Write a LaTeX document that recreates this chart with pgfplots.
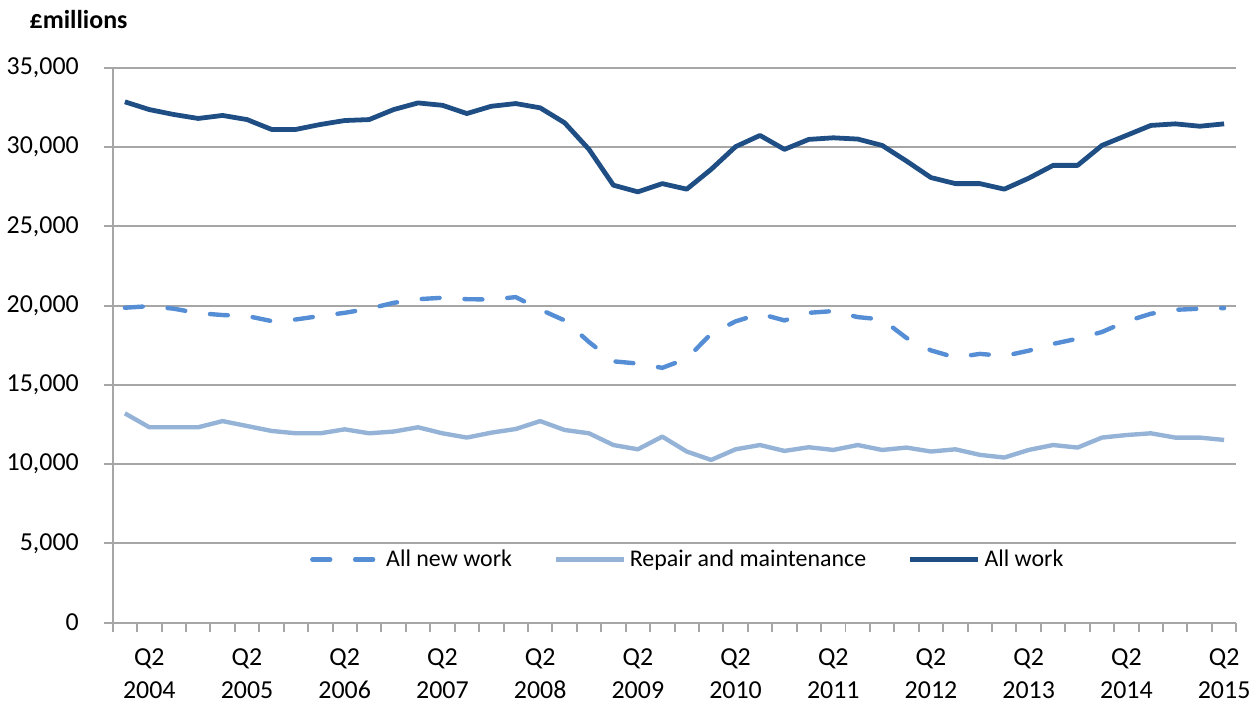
\documentclass[border=0pt]{standalone}
\usepackage{fontspec}
\setmainfont{Carlito}
\usepackage{pgfplots}
\pgfplotsset{compat=1.18}
\definecolor{allwork}{HTML}{1F4E85}
\definecolor{newwork}{HTML}{558ED5}
\definecolor{repair}{HTML}{95B3D7}
\definecolor{gridgray}{HTML}{A6A6A6}

% quarter index (0 = Q1 2004), all new work, repair and maintenance, all work
\pgfplotstableread{
q new repair all
0 19860 13200 32850
1 19960 12320 32360
2 19800 12320 32050
3 19520 12320 31800
4 19400 12710 31990
5 19340 12400 31730
6 19020 12090 31110
7 19120 11940 31110
8 19340 11940 31420
9 19540 12190 31670
10 19800 11940 31730
11 20170 12050 32360
12 20400 12320 32780
13 20490 11940 32630
14 20400 11670 32110
15 20380 11980 32570
16 20530 12210 32740
17 19750 12710 32470
18 19060 12150 31530
19 17700 11940 29850
20 16480 11200 27590
21 16340 10930 27170
22 16070 11730 27690
23 16650 10790 27340
24 18220 10260 28590
25 19000 10930 30020
26 19480 11200 30730
27 19060 10830 29850
28 19540 11060 30480
29 19650 10890 30580
30 19270 11200 30500
31 19120 10890 30100
32 17950 11040 29110
33 17170 10790 28070
34 16720 10930 27690
35 16950 10580 27690
36 16820 10410 27340
37 17150 10890 28030
38 17580 11200 28840
39 17910 11040 28840
40 18330 11670 30100
41 19000 11830 30730
42 19480 11940 31360
43 19730 11670 31460
44 19800 11670 31310
45 19840 11520 31460
}\data

\begin{document}
\begin{tikzpicture}
\begin{axis}[
    scale only axis,
    width=564pt,
    height=278.5pt,
    xmin=-0.5, xmax=45.5,
    ymin=0, ymax=35000,
    ytick={0,5000,...,35000},
    xtick={-0.5,0.5,...,45.5},
    xticklabels={},
    extra x ticks={1,5,9,13,17,21,25,29,33,37,41,45},
    extra x tick labels={Q2\\2004,Q2\\2005,Q2\\2006,Q2\\2007,Q2\\2008,Q2\\2009,Q2\\2010,Q2\\2011,Q2\\2012,Q2\\2013,Q2\\2014,Q2\\2015},
    extra x tick style={major tick length=0pt, grid=none,
        xticklabel style={align=center, font=\fontsize{13}{16.5}\selectfont, yshift=-9.7pt}},
    axis lines=left,
    axis line style={gridgray, line width=1pt, -},
    tick style={gridgray, line width=1pt},
    tick align=outside,
    major tick length=4.5pt,
    ymajorgrids,
    grid style={gridgray, line width=1pt},
    yticklabel style={font=\fontsize{13}{15}\selectfont, xshift=-9pt},
    /pgf/number format/assume math mode=true,
    /pgf/number format/1000 sep={,},
    scaled y ticks=false,
    clip=false,
    legend style={draw=none, fill=none, at={(0.5127,0.1136)}, anchor=center,
        font=\fontsize{12}{14}\selectfont, legend columns=3,
        /tikz/every even column/.append style={column sep=19pt}},
    legend image code/.code={\draw[#1] (0pt,0pt) -- (34pt,0pt);},
]
\addplot[newwork, line width=2.2pt, line cap=round, dash pattern=on 9pt off 12.5pt] table[x=q, y=new] {\data};
\addlegendentry{All new work}
\addplot[repair, line width=2.2pt, line join=round] table[x=q, y=repair] {\data};
\addlegendentry{Repair and maintenance}
\addplot[allwork, line width=2.4pt, line join=round] table[x=q, y=all] {\data};
\addlegendentry{All work}
\coordinate (bl) at (rel axis cs:0,0);
\coordinate (tr) at (rel axis cs:1,1);
\node[anchor=west, font=\fontsize{13}{15}\selectfont\bfseries] at ([shift={(-45.2pt,24pt)}]rel axis cs:0,1) {£millions};
\end{axis}
\path[use as bounding box] ([shift={(-55.85pt,-41pt)}]bl) rectangle ([shift={(8.5pt,34pt)}]tr);
\end{tikzpicture}
\end{document}
